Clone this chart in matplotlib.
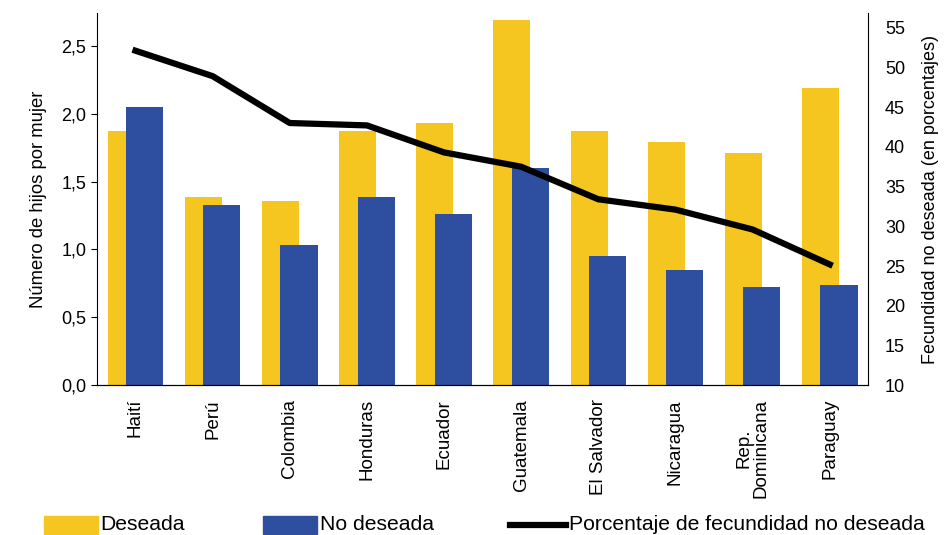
import numpy as np
import matplotlib.pyplot as plt
from matplotlib.patches import Rectangle
from matplotlib.lines import Line2D

plt.rcParams['font.family'] = ['Liberation Sans', 'DejaVu Sans']

paises = ['Haití', 'Perú', 'Colombia', 'Honduras', 'Ecuador', 'Guatemala',
          'El Salvador', 'Nicaragua', 'Rep.\nDominicana', 'Paraguay']
deseada = [1.87, 1.39, 1.36, 1.87, 1.93, 2.69, 1.87, 1.79, 1.71, 2.19]
no_deseada = [2.05, 1.33, 1.03, 1.39, 1.26, 1.60, 0.95, 0.85, 0.72, 0.74]
porcentaje = [52.1, 48.9, 43.0, 42.7, 39.3, 37.5, 33.4, 32.1, 29.6, 25.2]

amarillo = '#F5C61F'
azul = '#2E4FA0'

fig = plt.figure(figsize=(9.5, 5.35), dpi=100)
ax = fig.add_axes([0.102, 0.28, 0.812, 0.695])
x = np.arange(len(paises))
ax.bar(x - 0.12, deseada, width=0.48, color=amarillo, zorder=1)
ax.bar(x + 0.12, no_deseada, width=0.48, color=azul, zorder=2)
ax.set_xlim(-0.5, len(paises) - 0.5)
ax.set_ylim(0, 2.74)
ax.set_yticks([0, 0.5, 1.0, 1.5, 2.0, 2.5])
ax.set_yticklabels(['0,0', '0,5', '1,0', '1,5', '2,0', '2,5'])
ax.set_xticks(x)
ax.set_xticklabels(paises, rotation=90, va='top', ha='center', fontsize=13.5,
                   linespacing=1.0)
ax.tick_params(axis='x', length=0, pad=10)
ax.tick_params(axis='y', labelsize=13, length=4)
ax.set_ylabel('Número de hijos por mujer', fontsize=13.3, labelpad=10)
ax.spines['top'].set_visible(False)
ax.spines['right'].set_visible(False)

ax2 = ax.twinx()
ax2.plot(x, porcentaje, color='black', linewidth=4.5, zorder=3)
ax2.set_ylim(10, 56.8)
ax2.set_yticks(range(10, 56, 5))
ax2.tick_params(axis='y', labelsize=13, length=0, pad=12)
ax2.set_ylabel('Fecundidad no deseada (en porcentajes)', fontsize=13, labelpad=12)
ax2.spines['top'].set_visible(False)
ax2.spines['left'].set_visible(False)

# leyenda manual abajo
W, H = 950.0, 535.0
for x0, col in [(44, amarillo), (263, azul)]:
    fig.patches.append(Rectangle((x0 / W, 1 / H), 54 / W, 18 / H, color=col,
                                 transform=fig.transFigure, figure=fig))
fig.lines.append(Line2D([510 / W, 566 / W], [10 / H, 10 / H], color='black',
                        linewidth=4.5, transform=fig.transFigure, figure=fig))
for x0, txt in [(100, 'Deseada'), (320, 'No deseada'),
                (569, 'Porcentaje de fecundidad no deseada')]:
    fig.text(x0 / W, 10 / H, txt, fontsize=15.2, va='center', ha='left')

fig.savefig('out.png', dpi=100)
